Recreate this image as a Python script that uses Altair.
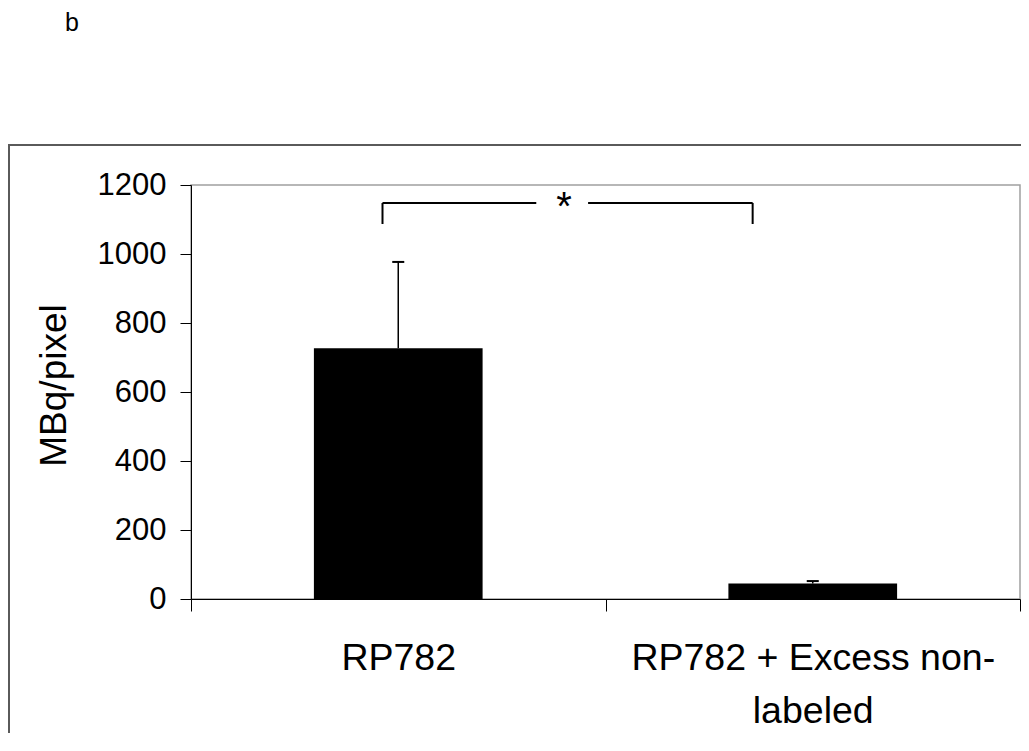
import altair as alt
import pandas as pd

# ---- data ----
CATEGORY_LINES = [["RP782"], ["RP782 + Excess non-", "labeled"]]
MEANS = [727, 45]
ERRORS = [250, 7]
Y_TICKS = [0, 200, 400, 600, 800, 1000, 1200]
Y_TITLE = "MBq/pixel"
PANEL_LABEL = "b"
SIG_MARK = "*"
BRACKET_X = [0.462, 1.355]        # legs of the significance bracket (category units)
BRACKET_GAP = [0.833, 0.958]      # gap in the bracket's top line around the star
BRACKET_Y = [1087, 1148]          # bottom of legs, top line
STAR_POS = [0.900, 1098]

# ---- style ----
FONT = "Liberation Sans"
BAR_WIDTH = 0.407
CAP_HALF = 0.0145

n = len(MEANS)
centers = [i + 0.5 for i in range(n)]
bars = pd.DataFrame({
    "center": centers,
    "x0": [c - BAR_WIDTH / 2 for c in centers],
    "x1": [c + BAR_WIDTH / 2 for c in centers],
    "mean": MEANS,
    "top": [m + e for m, e in zip(MEANS, ERRORS)],
    "c0": [c - CAP_HALF for c in centers],
    "c1": [c + CAP_HALF for c in centers],
})

def js_label(lines):
    if len(lines) == 1:
        return "'" + lines[0] + "'"
    return "[" + ", ".join("'" + s + "'" for s in lines) + "]"

label_expr = ""
for c, lines in zip(centers, CATEGORY_LINES):
    label_expr += f"datum.value == {c} ? {js_label(lines)} : "
label_expr += "''"

tick_values = sorted(set([float(i) for i in range(n + 1)] + centers))

x_scale = alt.Scale(domain=[0, n], nice=False, zero=False)
y_scale = alt.Scale(domain=[0, 1200], nice=False)

x_axis = alt.Axis(
    values=tick_values, labelExpr=label_expr, title=None, grid=False,
    tickSize=12, tickColor="black", tickWidth=1,
    tickOpacity={"condition": {"test": "datum.value % 1 != 0", "value": 0}, "value": 1},
    domainColor="black", domainWidth=1,
    labelFont=FONT, labelFontSize=37.5, labelColor="black",
    labelPadding=28, labelLineHeight=53, labelLimit=0,
    labelOverlap=False, labelFlush=False, labelAngle=0,
)
y_axis = alt.Axis(
    values=Y_TICKS, format="d", grid=False,
    tickSize=11, tickColor="black", tickWidth=1,
    domainColor="black", domainWidth=1,
    labelFont=FONT, labelFontSize=31, labelColor="black", labelPadding=14,
    labelFlush=False,
    title=Y_TITLE, titleFont=FONT, titleFontSize=37, titleFontWeight="normal",
    titleColor="black", titleAngle=-90, titleX=-126, titleY=200,
    titleBaseline="alphabetic", titleAlign="center",
)

def X(field):
    return alt.X(field, scale=x_scale, axis=x_axis)

def Y(field):
    return alt.Y(field, scale=y_scale, axis=y_axis)

bar_layer = alt.Chart(bars).mark_bar(color="black").encode(
    x=X("x0:Q"), x2="x1:Q", y=Y("mean:Q"), y2=alt.Y2(datum=0),
)
err_line = alt.Chart(bars).mark_rule(color="black", strokeWidth=1.5).encode(
    x=X("center:Q"), y=Y("mean:Q"), y2="top:Q",
)
err_cap = alt.Chart(bars).mark_rule(color="black", strokeWidth=2).encode(
    x=X("c0:Q"), x2="c1:Q", y=Y("top:Q"),
)

legs = pd.DataFrame({"x": BRACKET_X, "y0": [BRACKET_Y[0]] * 2, "y1": [BRACKET_Y[1]] * 2})
tops = pd.DataFrame({"x0": [BRACKET_X[0], BRACKET_GAP[1]],
                     "x1": [BRACKET_GAP[0], BRACKET_X[1]],
                     "y": [BRACKET_Y[1]] * 2})
leg_layer = alt.Chart(legs).mark_rule(color="black", strokeWidth=2).encode(
    x=X("x:Q"), y=Y("y0:Q"), y2="y1:Q",
)
top_layer = alt.Chart(tops).mark_rule(color="black", strokeWidth=2).encode(
    x=X("x0:Q"), x2="x1:Q", y=Y("y:Q"),
)
star = alt.Chart(pd.DataFrame({"x": [STAR_POS[0]], "y": [STAR_POS[1]], "t": [SIG_MARK]})).mark_text(
    font=FONT, fontSize=40, color="black", align="center", baseline="alphabetic"
).encode(x=X("x:Q"), y=Y("y:Q"), text="t:N")

one = pd.DataFrame({"t": [PANEL_LABEL]})
frame = alt.Chart(one).mark_rect(fill="transparent", stroke="#5a5a5a", strokeWidth=2).encode(
    x=alt.value(-182), y=alt.value(-40), x2=alt.value(1500), y2=alt.value(1500)
)
panel = alt.Chart(one).mark_text(
    font=FONT, fontSize=25, color="black", align="left", baseline="alphabetic"
).encode(x=alt.value(-126), y=alt.value(-154), text="t:N")

chart = alt.layer(
    bar_layer, frame, err_line, err_cap, leg_layer, top_layer, star, panel
).properties(
    width=829, height=414,
    autosize=alt.AutoSizeParams(type="none"),
    padding={"left": 183, "top": 177, "right": 1, "bottom": 134},
    background="white",
).configure_view(stroke="#a0a0a0", strokeWidth=1.5)

chart.save("out.html", embed_options={"renderer": "svg", "actions": False})
